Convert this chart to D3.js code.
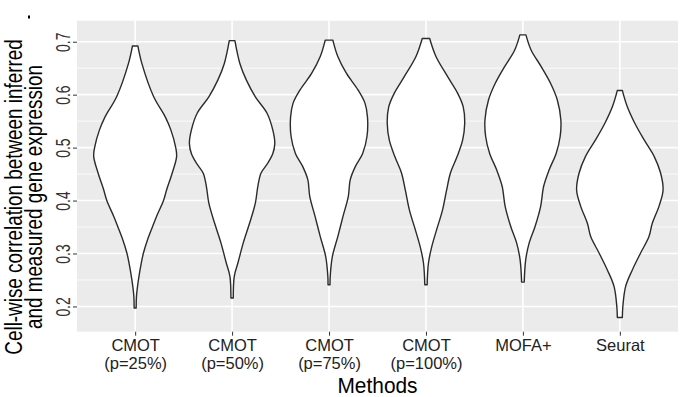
<!DOCTYPE html>
<html><head><meta charset="utf-8">
<script src="https://cdn.jsdelivr.net/npm/d3@7"></script>
<style>body{margin:0;background:#fff}svg{display:block}</style>
</head><body><svg id="c" width="690" height="397"></svg>
<script>
// ---- data ----
const methods = ["CMOT (p=25%)", "CMOT (p=50%)", "CMOT (p=75%)", "CMOT (p=100%)", "MOFA+", "Seurat"];
const methodLines = [["CMOT", "(p=25%)"], ["CMOT", "(p=50%)"], ["CMOT", "(p=75%)"], ["CMOT", "(p=100%)"], ["MOFA+"], ["Seurat"]];
const yTicks = [0.2, 0.3, 0.4, 0.5, 0.6, 0.7];
const yMinor = [0.25, 0.35, 0.45, 0.55, 0.65];
const xTitle = "Methods";
const yTitle = ["Cell-wise correlation between inferred", "and measured gene expression"];
// violin profiles: [correlation value, relative density (1 = widest)]
const cmot25 = [[0.692,0.062],[0.659,0.153],[0.596,0.425],[0.558,0.69],[0.533,0.82],[0.500,0.93],[0.483,0.95],[0.452,0.85],[0.420,0.72],[0.400,0.65],[0.370,0.49],[0.351,0.40],[0.325,0.28],[0.301,0.19],[0.282,0.14],[0.250,0.075],[0.219,0.03],[0.197,0.023]];
const cmot50 = [[0.702,0.064],[0.659,0.178],[0.628,0.325],[0.596,0.533],[0.565,0.801],[0.533,0.934],[0.508,0.979],[0.489,0.934],[0.470,0.812],[0.452,0.664],[0.427,0.590],[0.395,0.533],[0.357,0.400],[0.320,0.256],[0.282,0.133],[0.257,0.050],[0.216,0.027]];
const cmot75 = [[0.703,0.087],[0.672,0.201],[0.640,0.400],[0.609,0.664],[0.584,0.824],[0.558,0.881],[0.521,0.870],[0.489,0.771],[0.464,0.602],[0.439,0.485],[0.408,0.442],[0.370,0.320],[0.332,0.201],[0.294,0.076],[0.256,0.027],[0.241,0.023]];
const cmot100 = [[0.706,0.085],[0.672,0.229],[0.634,0.497],[0.603,0.725],[0.577,0.854],[0.546,0.888],[0.514,0.840],[0.483,0.714],[0.452,0.561],[0.420,0.474],[0.383,0.382],[0.345,0.245],[0.313,0.133],[0.282,0.057],[0.241,0.027]];
const mofa = [[0.713,0.069],[0.684,0.190],[0.653,0.419],[0.621,0.636],[0.590,0.789],[0.552,0.870],[0.521,0.854],[0.489,0.762],[0.458,0.602],[0.427,0.476],[0.389,0.407],[0.351,0.279],[0.320,0.144],[0.288,0.064],[0.246,0.030]];
const seurat = [[0.608,0.057],[0.578,0.167],[0.546,0.343],[0.515,0.554],[0.483,0.789],[0.452,0.934],[0.420,0.991],[0.389,0.897],[0.357,0.744],[0.332,0.668],[0.301,0.476],[0.269,0.286],[0.238,0.133],[0.200,0.069],[0.179,0.057]];
const profiles = [cmot25, cmot50, cmot75, cmot100, mofa, seurat];

// ---- layout ----
const FONT = "'Liberation Sans', Arial, Helvetica, sans-serif";
const NARROW = 0.82; // reference uses a narrow sans face
const svg = d3.select("#c");
const P = {left: 77, right: 678, top: 20.7, bottom: 331.7};

const allVals = profiles.flat().map(d => d[0]);
const vMin = d3.min(allVals), vMax = d3.max(allVals), ext = (vMax - vMin) * 0.05;
const y = d3.scaleLinear().domain([vMin - ext, vMax + ext]).range([P.bottom, P.top]);
const x = d3.scalePoint().domain(methods).range([P.left, P.right]).padding(0.6);
const halfMax = x.step() * 0.45;

// panel
svg.append("rect").attr("x", P.left).attr("y", P.top)
  .attr("width", P.right - P.left).attr("height", P.bottom - P.top).attr("fill", "#EBEBEB");

const g = svg.append("g");
g.selectAll("line.minor").data(yMinor).join("line")
  .attr("x1", P.left).attr("x2", P.right).attr("y1", d => y(d)).attr("y2", d => y(d))
  .attr("stroke", "#fff").attr("stroke-width", 0.8);
g.selectAll("line.majy").data(yTicks).join("line")
  .attr("x1", P.left).attr("x2", P.right).attr("y1", d => y(d)).attr("y2", d => y(d))
  .attr("stroke", "#fff").attr("stroke-width", 1.6);
g.selectAll("line.majx").data(methods).join("line")
  .attr("y1", P.top).attr("y2", P.bottom).attr("x1", d => x(d)).attr("x2", d => x(d))
  .attr("stroke", "#fff").attr("stroke-width", 1.6);

// violins
const area = d3.area()
  .y(d => y(d[0]))
  .curve(d3.curveCatmullRom.alpha(0.5));
methods.forEach((m, i) => {
  const cx = x(m);
  svg.append("path").datum(profiles[i])
    .attr("d", area.x0(d => cx - d[1] * halfMax).x1(d => cx + d[1] * halfMax))
    .attr("fill", "#fff").attr("stroke", "#2b2b2b").attr("stroke-width", 1.4)
    .attr("stroke-linejoin", "round");
});

// axes
const yAxis = svg.append("g").attr("transform", `translate(${P.left},0)`)
  .call(d3.axisLeft(y).tickValues(yTicks).tickSize(4).tickPadding(3).tickFormat(d3.format(".1f")));
yAxis.select(".domain").remove();
yAxis.selectAll(".tick line").attr("stroke", "#333").attr("stroke-width", 1);
yAxis.selectAll(".tick text")
  .attr("transform", "rotate(-90) scale(0.68,1)").attr("x", 0).attr("y", -7.5).attr("dy", 0)
  .attr("text-anchor", "middle")
  .style("font-family", FONT).style("font-size", "20.5px").attr("fill", "#333");

const xAxis = svg.append("g").attr("transform", `translate(0,${P.bottom})`)
  .call(d3.axisBottom(x).tickSize(4).tickFormat(""));
xAxis.select(".domain").remove();
xAxis.selectAll(".tick line").attr("stroke", "#333").attr("stroke-width", 1);
xAxis.selectAll(".tick").each(function(d, i) {
  methodLines[i].forEach((s, k) => d3.select(this).append("text")
    .attr("x", 0).attr("y", 19.5 + k * 18)
    .attr("text-anchor", "middle").attr("fill", "#222")
    .style("font-family", FONT).style("font-size", "16.5px").text(s));
});

// titles
svg.append("text")
  .attr("transform", `translate(${(P.left + P.right) / 2},393) scale(0.95,1)`)
  .attr("text-anchor", "middle").style("font-family", FONT)
  .style("font-size", "22px").attr("fill", "#000").text(xTitle);
const yt = svg.append("text").attr("transform", `translate(0,197) rotate(-90) scale(${NARROW},1)`)
  .attr("text-anchor", "middle").style("font-family", FONT)
  .style("font-size", "23px").attr("fill", "#000");
yTitle.forEach((s, k) => yt.append("tspan").attr("x", 0).attr("y", 21.8 + k * 20.3).text(s));

// small stray mark at top-left of the figure
svg.append("rect").attr("x", 28).attr("y", 15.5).attr("width", 2).attr("height", 3).attr("fill", "#000");
</script></body></html>
